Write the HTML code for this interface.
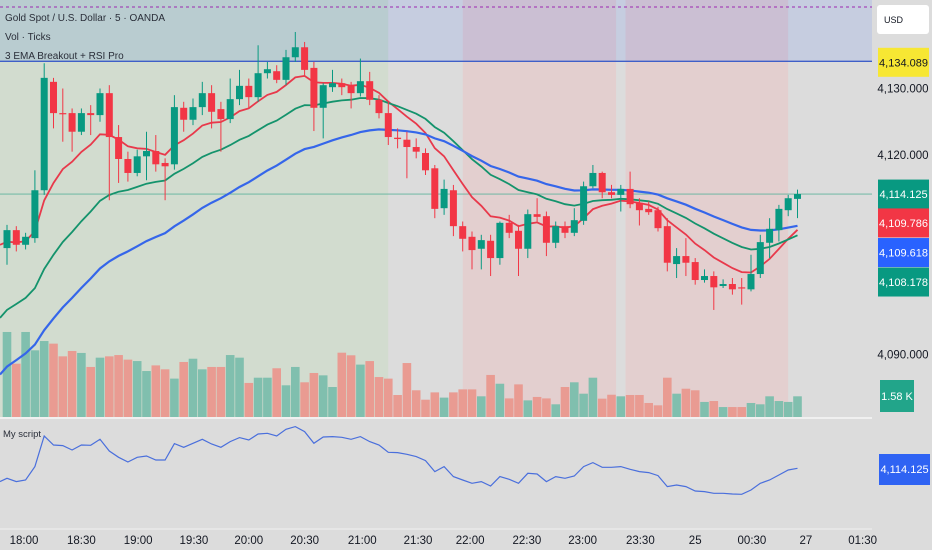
<!DOCTYPE html>
<html><head><meta charset="utf-8"><style>
html,body{margin:0;padding:0;background:#dcdcdc;}
svg{display:block;font-family:"Liberation Sans",sans-serif;}
</style></head><body>
<svg id="chart" width="932" height="550" viewBox="0 0 932 550" xmlns="http://www.w3.org/2000/svg">
<rect x="0" y="0" width="932" height="550" fill="#dcdcdc"/>
<g id="bands"></g>
<g id="vol"></g>
<g id="ema"></g>
<g id="candles"></g>
<g id="osc"></g>
<g id="axis"></g>
<text x="5" y="21" font-size="10" fill="#2a2e39">Gold Spot / U.S. Dollar · 5 · OANDA</text>
<text x="5" y="40" font-size="10" fill="#2a2e39">Vol · Ticks</text>
<text x="5" y="59" font-size="10" fill="#2a2e39">3 EMA Breakout + RSI Pro</text>
<text x="3" y="437" font-size="9.5" fill="#2a2e39">My script</text>
</svg>
<script>
const opens=[4106.0,4108.7,4106.5,4107.5,4114.7,4131.0,4126.3,4126.3,4123.5,4126.3,4126.0,4129.3,4122.7,4119.4,4117.3,4119.8,4120.6,4118.8,4118.6,4127.1,4125.3,4127.2,4129.3,4126.9,4125.4,4128.4,4130.4,4128.7,4132.3,4132.6,4131.3,4134.7,4136.2,4133.1,4127.1,4130.2,4130.8,4130.5,4129.3,4131.1,4128.3,4126.3,4122.6,4122.3,4121.2,4120.3,4118.0,4112.0,4114.7,4109.3,4107.7,4105.9,4107.1,4104.5,4109.8,4108.6,4105.9,4111.1,4110.8,4106.8,4109.3,4108.3,4110.1,4115.3,4117.3,4114.4,4114.0,4114.9,4112.8,4111.9,4111.7,4109.3,4103.6,4104.8,4103.9,4101.2,4101.8,4100.3,4100.6,4100.1,4099.8,4102.1,4106.8,4108.7,4111.7,4113.4];
const closes=[4108.7,4106.5,4107.7,4114.7,4131.6,4126.3,4126.2,4123.5,4126.3,4126.0,4129.3,4122.7,4119.4,4117.3,4119.8,4120.6,4118.6,4118.3,4127.2,4125.3,4127.2,4129.3,4126.5,4125.4,4128.4,4130.4,4128.7,4132.3,4132.9,4131.3,4134.7,4136.2,4132.8,4127.1,4130.5,4130.8,4130.2,4129.3,4131.1,4128.3,4126.3,4122.7,4122.4,4121.2,4120.5,4117.7,4111.9,4114.9,4109.3,4107.4,4105.7,4107.2,4104.5,4109.8,4108.3,4105.9,4111.1,4110.7,4106.8,4109.3,4108.3,4110.2,4115.3,4117.3,4114.4,4114.0,4114.9,4112.6,4111.7,4111.4,4109.0,4103.8,4104.8,4103.8,4101.2,4101.8,4100.1,4100.6,4099.8,4100.0,4102.1,4106.9,4108.9,4111.9,4113.5,4114.125];
const highs=[4109.5,4109.3,4108.3,4117.7,4133.8,4131.6,4130.0,4127.0,4127.0,4127.5,4130.0,4130.5,4124.5,4120.5,4120.8,4123.5,4123.0,4119.5,4129.0,4128.0,4128.5,4131.0,4130.5,4128.0,4131.5,4132.8,4131.5,4136.5,4134.0,4133.5,4135.8,4138.5,4137.0,4134.0,4130.8,4132.8,4131.5,4131.0,4134.5,4132.5,4129.0,4128.0,4124.0,4123.5,4122.5,4121.0,4118.5,4116.3,4115.5,4110.0,4108.5,4108.0,4108.0,4110.0,4111.0,4109.5,4111.8,4113.5,4111.5,4110.0,4110.0,4112.0,4116.0,4118.5,4117.5,4115.5,4115.5,4117.5,4113.5,4113.0,4112.2,4110.5,4106.0,4107.5,4104.5,4102.8,4102.5,4101.3,4101.5,4101.5,4105.0,4108.0,4110.5,4112.5,4114.0,4114.8];
const lows=[4103.5,4105.5,4105.8,4106.8,4114.0,4124.0,4122.0,4120.5,4123.0,4123.0,4125.0,4113.2,4115.8,4116.0,4116.8,4116.2,4117.5,4113.2,4117.8,4123.5,4124.5,4126.0,4124.0,4120.5,4124.8,4127.5,4127.0,4128.0,4131.5,4130.8,4130.5,4134.0,4132.0,4123.6,4122.5,4129.5,4129.0,4127.0,4128.8,4127.5,4125.5,4121.5,4121.0,4116.5,4119.5,4117.0,4110.5,4111.0,4107.8,4105.5,4102.8,4102.8,4101.8,4103.5,4107.5,4101.8,4104.5,4110.0,4104.8,4106.0,4107.5,4107.8,4109.5,4115.0,4113.5,4113.5,4111.5,4112.0,4109.4,4111.0,4108.5,4102.5,4101.5,4101.8,4100.5,4100.8,4096.7,4100.0,4099.0,4097.5,4099.5,4101.5,4104.5,4107.0,4110.8,4110.5];
const volumes=[6.49,4.07,6.49,5.09,5.80,5.60,4.63,5.04,4.89,3.82,4.53,4.63,4.73,4.38,4.27,3.51,3.94,3.64,2.93,4.20,4.45,3.64,3.82,3.82,4.73,4.53,2.60,3.00,3.00,3.72,2.42,3.82,2.65,3.36,3.18,2.29,4.91,4.71,4.00,4.27,3.05,2.93,1.68,4.12,2.04,1.32,1.88,1.48,1.88,2.11,2.11,1.58,3.21,2.54,1.42,2.49,1.27,1.53,1.42,0.97,2.29,2.65,1.78,3.00,1.40,1.70,1.58,1.68,1.68,1.07,0.89,3.00,1.78,2.16,2.04,1.15,1.22,0.76,0.76,0.76,1.07,0.97,1.58,1.22,1.15,1.58];
const oscValues=[21.7,25,21.7,23.3,36.7,67.3,58.3,57.7,53.3,58.3,58,64,52.3,46,41.3,46,47.3,43.3,43.3,59.7,56,60,64,59.3,56,61.7,65.7,63.3,69.3,70,67.3,74,76.7,71.7,60,66.3,66.7,66,64,66.7,61.7,58.3,51,50.7,49,46.7,42.7,31.7,36.7,26.7,23.3,20,21.7,17.3,26.7,24,20,30,29.3,21.7,26.7,25,27.3,36.7,40.7,36,36,36.7,34,31.7,30.7,27.7,16.7,18.3,16.7,12.3,11.7,10,10,9.3,9,13.3,20,23.3,28.3,33.3,35];
const priceTicks=[4130,4120,4090];
const timeLabels=["18:00","18:30","19:00","19:30","20:00","20:30","21:00","21:30","22:00","22:30","23:00","23:30","25","00:30","27","01:30"];
const timeBarPos=[1.83,8.0,14.1,20.1,26.0,32.0,38.2,44.2,49.8,55.9,61.9,68.1,74.0,80.1,85.9,92.0];
const emaSeeds=[4106.5,4095.5,4087];
const emaPeriods=[9,21,36];
const sessionBars=[[-1,40.5,"green"],[49.5,65,"red"],[67,83.5,"red"]];
const hLevels=[4134.089,4114.125];

const NS="http://www.w3.org/2000/svg";
const xB=i=>7+i*9.3;
const yP=p=>155+(4120-p)*6.65;
const yV=v=>417-v*13.1;
const yO=v=>503.3-v;
function mk(tag,attrs,parent){const e=document.createElementNS(NS,tag);for(const k in attrs)e.setAttribute(k,attrs[k]);parent.appendChild(e);return e;}
const G=id=>document.getElementById(id);
const UP="#089981",DN="#f23645";

const bands=G("bands");
let e=mk("rect",{x:0,y:0,width:872,height:62,fill:"#c6cde0"},bands);


sessionBars.forEach(s=>{
  const x0=Math.max(0,xB(s[0])-4.6), x1=xB(s[1])+4.6;
  let r=mk("rect",{x:x0,y:62,width:x1-x0,height:355,fill:s[2]=="green"?"#d2dccf":"#e3cfcf"},bands);
  
  
  let t=mk("rect",{x:x0,y:0,width:x1-x0,height:62,fill:s[2]=="green"?"#b9ccd0":"#cbbfd3"},bands);
  
  
});
e=mk("line",{x1:0,x2:872,y1:7,y2:7,stroke:"#9c27b0","stroke-width":1,"stroke-dasharray":"3,3"},bands);


e=mk("line",{x1:0,x2:872,y1:yP(hLevels[0]),y2:yP(hLevels[0]),stroke:"#3f5fc8","stroke-width":1.3},bands);


e=mk("line",{x1:0,x2:872,y1:yP(hLevels[1]),y2:yP(hLevels[1]),stroke:"#5fb39d","stroke-width":0.8},bands);


e=mk("line",{x1:0,x2:872,y1:418,y2:418,stroke:"#f0f0f0","stroke-width":2},bands);



const vol=G("vol");
volumes.forEach((v,i)=>{
  const up=closes[i]>=opens[i];
  const r=mk("rect",{x:xB(i)-4.3,y:yV(v),width:8.6,height:417-yV(v),fill:up?"#80bfae":"#e99b92"},vol);
  
  
});

const emaG=G("ema");
const emaCols=["#e8394b","#14936c","#3566ea"];
emaPeriods.forEach((n,k)=>{
  const a=2/(n+1);let v=emaSeeds[k];const pts=[];
  pts.push([0,yP(v)]);
  closes.forEach((c,i)=>{v=v+a*(c-v);pts.push([xB(i),yP(v)]);});
  const p=mk("polyline",{points:pts.map(q=>q[0].toFixed(1)+","+q[1].toFixed(1)).join(" "),fill:"none",stroke:emaCols[k],"stroke-width":k==2?2.2:1.8},emaG);
  
  
});

const cg=G("candles");
opens.forEach((o,i)=>{
  const c=closes[i],up=c>=o,col=up?UP:DN,x=xB(i);
  const g=mk("g",{},cg);
  
  
  mk("line",{x1:x,x2:x,y1:yP(highs[i]),y2:yP(lows[i]),stroke:col,"stroke-width":1},g);
  const t=yP(Math.max(o,c)),b=yP(Math.min(o,c));
  mk("rect",{x:x-3.5,y:t,width:7,height:Math.max(1.2,b-t),fill:col},g);
});

const og=G("osc");
e=mk("polyline",{points:oscValues.map((v,i)=>(i==0?0:xB(i-1)).toFixed(1)+","+yO(v).toFixed(1)).join(" "),fill:"none",stroke:"#4a6fdc","stroke-width":1.2},og);


e=mk("line",{x1:0,x2:872,y1:529,y2:529,stroke:"#f0f0f0","stroke-width":1},og);



const ax=G("axis");
priceTicks.forEach(p=>{
  const t=mk("text",{x:903,y:yP(p)+4,"font-size":11.5,"text-anchor":"middle",fill:"#131722"},ax);
  t.textContent=p.toLocaleString("en-US",{minimumFractionDigits:3});
  
  
});
timeLabels.forEach((l,i)=>{
  const t=mk("text",{x:xB(timeBarPos[i]),y:544,"font-size":11.5,"text-anchor":"middle",fill:"#131722"},ax);
  t.textContent=l;
  
  
});
const labels=[
 ["4,134.089",yP(4134.089)+1,"#f7e733","#131722","breakout-price-label"],
 ["4,114.125",yP(4114.125),"#089981","#fff","last-price-label"],
 ["4,109.786",yP(4109.786),"#f23645","#fff","ema-fast-label"],
 ["4,109.618",yP(4109.618)+28.5,"#2962ff","#fff","ema-slow-label"],
 ["4,108.178",yP(4108.178)+48.4,"#089981","#fff","ema-mid-label"]];
labels.forEach(L=>{
  const g=mk("g",{},ax);
  
  
  mk("rect",{x:878,y:L[1]-14.5,width:51,height:29,fill:L[2]},g);
  const t=mk("text",{x:903.5,y:L[1]+4,"font-size":11,"text-anchor":"middle",fill:L[3]},g);
  t.textContent=L[0];
});
let g2=mk("g",{},ax);


mk("rect",{x:880,y:380,width:34,height:32,fill:"#22a58a"},g2);
let tt=mk("text",{x:897,y:400,"font-size":11,"text-anchor":"middle",fill:"#fff"},g2);tt.textContent="1.58 K";
g2=mk("g",{},ax);


mk("rect",{x:879,y:454,width:51,height:31,fill:"#2f63f3"},g2);
tt=mk("text",{x:904.5,y:473,"font-size":11,"text-anchor":"middle",fill:"#fff"},g2);tt.textContent="4,114.125";
g2=mk("g",{},ax);


mk("rect",{x:877,y:5,width:52,height:29,rx:3,fill:"#ffffff"},g2);
tt=mk("text",{x:884,y:23,"font-size":9,fill:"#131722"},g2);tt.textContent="USD";
</script>
</body></html>
